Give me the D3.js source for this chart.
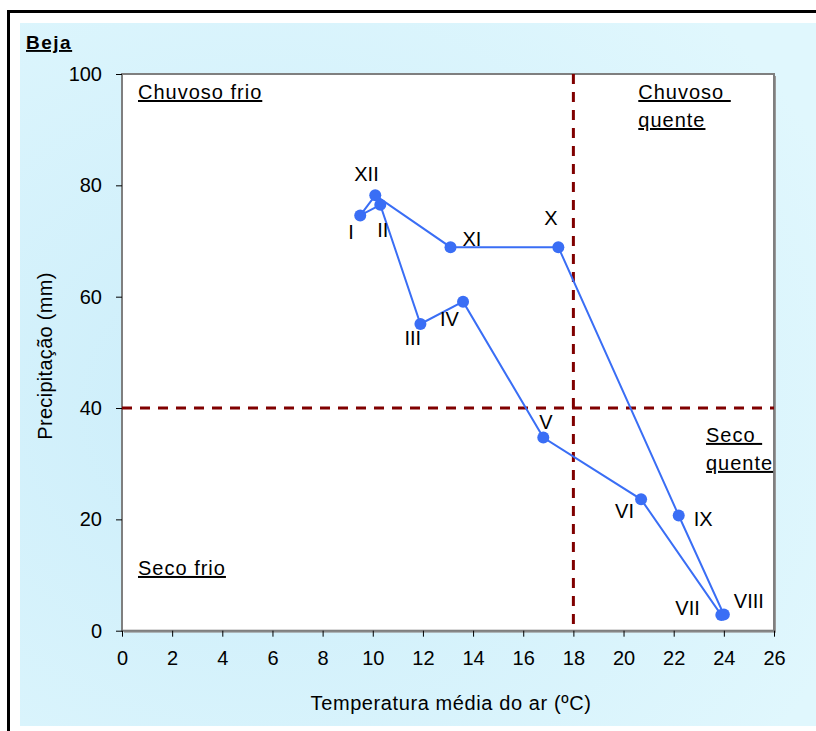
<!DOCTYPE html>
<html>
<head>
<meta charset="utf-8">
<script src="https://cdn.jsdelivr.net/npm/d3@7"></script>
<style>
  body { margin: 0; background: #fff; }
  svg text { font-family: "Liberation Sans", Arial, sans-serif; fill: #000; }
</style>
</head>
<body>
<div id="chart"></div>
<script>
// monthly normals, Beja
var months = ["I", "II", "III", "IV", "V", "VI", "VII", "VIII", "IX", "X", "XI", "XII"];
var temperature = [9.5, 10.3, 11.9, 13.6, 16.8, 20.7, 23.9, 24.0, 22.2, 17.4, 13.1, 10.1];
var precipitation = [74.6, 76.5, 55.1, 59.1, 34.7, 23.6, 2.8, 2.9, 20.7, 68.9, 68.9, 78.2];

var xTicks = [0, 2, 4, 6, 8, 10, 12, 14, 16, 18, 20, 22, 24, 26];
var yTicks = [0, 20, 40, 60, 80, 100];

var tempLimit = 18, rainLimit = 40;

var quadrants = [
  { lines: ["Chuvoso frio"], t: 0, p: 100 },
  { lines: ["Chuvoso ", "quente"], t: 19.95, p: 100 },
  { lines: ["Seco ", "quente"], t: 22.65, p: 38.4 },
  { lines: ["Seco frio"], t: 0, p: 14.5 }
];

// label placement (px offsets from the point)
var labelOffset = {
  "I": [-12, 24], "II": [-3, 32], "III": [-16, 21], "IV": [-23, 24],
  "V": [-4, -9], "VI": [-26, 19], "VII": [-46, 0], "VIII": [10, -7],
  "IX": [15, 11], "X": [-14, -22], "XI": [12, -1], "XII": [-21, -14]
};

var W = 816, H = 731;
var margin = { left: 122, top: 74, right: 42, bottom: 100 };
var width = W - margin.left - margin.right,
    height = 630.7 - margin.top;

var svg = d3.select("#chart").append("svg").attr("width", W).attr("height", H);

var defs = svg.append("defs");
var grad = defs.append("radialGradient").attr("id", "bg")
  .attr("cx", "0.3").attr("cy", "0.55").attr("r", "0.8");
grad.append("stop").attr("offset", "0").attr("stop-color", "#cbedfa");
grad.append("stop").attr("offset", "1").attr("stop-color", "#e0f7fd");

// panel + outer frame
svg.append("rect").attr("x", 20).attr("y", 23).attr("width", W - 20).attr("height", 703)
  .attr("fill", "url(#bg)");
svg.append("path").attr("d", "M8.5," + H + "V11.5H" + W)
  .attr("fill", "none").attr("stroke", "#000").attr("stroke-width", 3);

var x = d3.scaleLinear().domain([0, 26]).range([0, width]);
var y = d3.scaleLinear().domain([0, 100]).range([height, 0]);

var g = svg.append("g").attr("transform", "translate(" + margin.left + "," + margin.top + ")");

// plot area with shadow
g.append("rect").attr("x", 2).attr("y", 2).attr("width", width).attr("height", height)
  .attr("fill", "#9a9a9a");
g.append("rect").attr("width", width).attr("height", height)
  .attr("fill", "#fff").attr("stroke", "#7f7f7f").attr("stroke-width", 2);

// axes
var yAxis = g.append("g")
  .call(d3.axisLeft(y).tickValues(yTicks).tickSize(6).tickPadding(8).tickFormat(d3.format("d")));
var xAxis = g.append("g").attr("transform", "translate(0," + height + ")")
  .call(d3.axisBottom(x).tickValues(xTicks).tickSize(6).tickPadding(14).tickFormat(d3.format("d")));
[xAxis, yAxis].forEach(function(a) {
  a.select(".domain").remove();
  a.selectAll("line").attr("stroke", "#000");
  a.selectAll("text").style("font-size", "20px").attr("fill", "#000");
});
yAxis.selectAll("text").attr("dx", "-6px");

// threshold lines
g.append("line").attr("x1", 0).attr("x2", width).attr("y1", y(rainLimit)).attr("y2", y(rainLimit))
  .attr("stroke", "#800000").attr("stroke-width", 3).attr("stroke-dasharray", "10,8");
g.append("line").attr("x1", x(tempLimit)).attr("x2", x(tempLimit)).attr("y1", 0).attr("y2", height)
  .attr("stroke", "#800000").attr("stroke-width", 3).attr("stroke-dasharray", "10,8");

// quadrant names
quadrants.forEach(function(q) {
  var t = g.append("text").attr("x", x(q.t) + 16).attr("y", y(q.p) + 25)
    .style("font-size", "20px").style("letter-spacing", "1px")
    .attr("text-decoration", "underline").style("white-space", "pre");
  q.lines.forEach(function(l, i) {
    t.append("tspan").attr("x", x(q.t) + 16).attr("dy", i ? 28 : 0).text(l);
  });
});

// loop path
var pts = months.map(function(m, i) { return { m: m, t: temperature[i], p: precipitation[i] }; });
var line = d3.line().x(function(d) { return x(d.t); }).y(function(d) { return y(d.p); })
  .curve(d3.curveLinearClosed);
g.append("path").datum(pts).attr("d", line)
  .attr("fill", "none").attr("stroke", "#3a6ef5").attr("stroke-width", 2);

g.selectAll("circle.pt").data(pts).enter().append("circle").attr("class", "pt")
  .attr("cx", function(d) { return x(d.t); }).attr("cy", function(d) { return y(d.p); })
  .attr("r", 6).attr("fill", "#3a6ef5");

g.selectAll("text.month").data(pts).enter().append("text").attr("class", "month")
  .attr("x", function(d) { return x(d.t) + labelOffset[d.m][0]; })
  .attr("y", function(d) { return y(d.p) + labelOffset[d.m][1]; })
  .style("font-size", "20px")
  .text(function(d) { return d.m; });

// titles
svg.append("text").attr("x", 26).attr("y", 49).style("font-size", "19px").style("font-weight", "bold")
  .style("letter-spacing", "1.5px").attr("text-decoration", "underline").text("Beja");
svg.append("text").attr("x", margin.left + width / 2 + 3).attr("y", 710).attr("text-anchor", "middle")
  .style("font-size", "20px").style("letter-spacing", "0.6px").text("Temperatura média do ar (ºC)");
svg.append("text").attr("transform", "translate(52,356) rotate(-90)").attr("text-anchor", "middle")
  .style("font-size", "20px").style("letter-spacing", "0.3px").text("Precipitação (mm)");
</script>
</body>
</html>
